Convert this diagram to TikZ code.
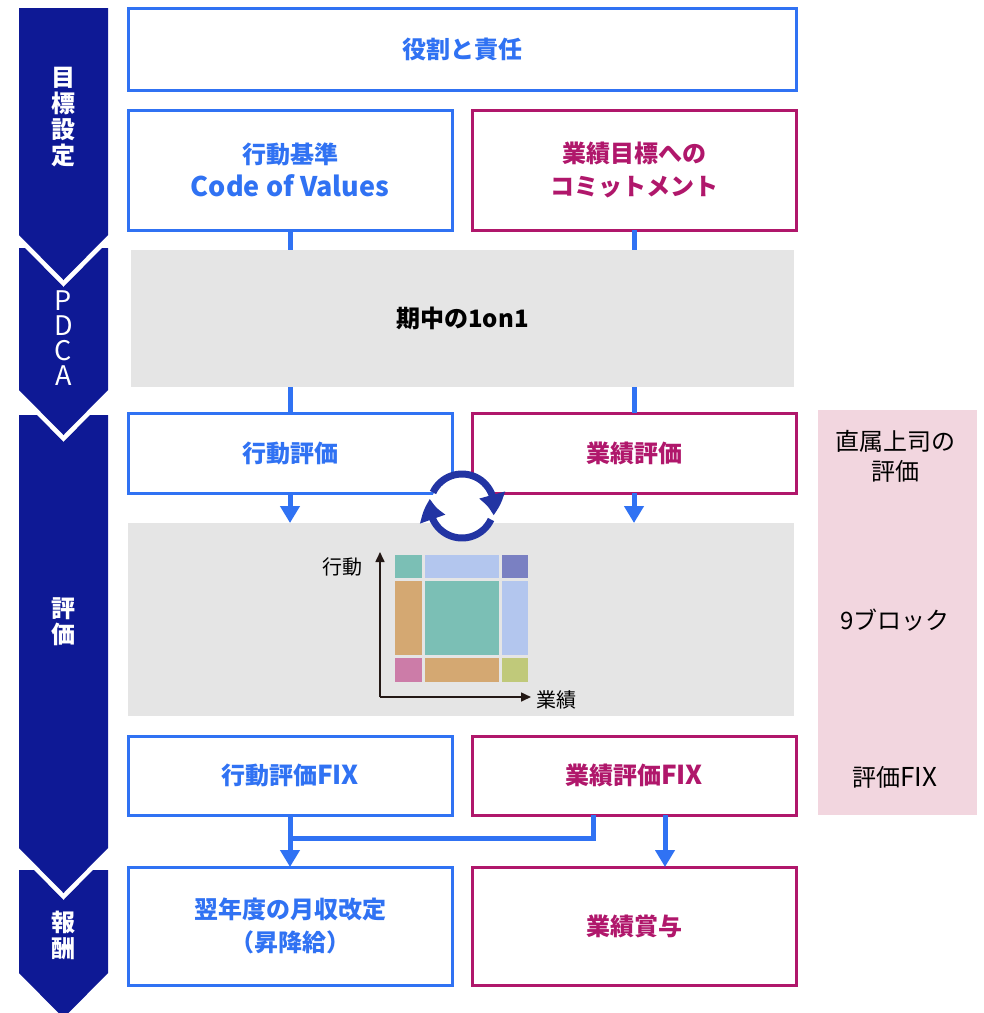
\documentclass[tikz,border=0pt]{standalone}
\usepackage{fontspec}
\setmainfont{Noto Sans CJK JP}
\usetikzlibrary{arrows.meta,bending}
\definecolor{kblue}{HTML}{3072F3}
\definecolor{kmag}{HTML}{B0176B}
\definecolor{knavy}{HTML}{0E1995}
\definecolor{kcyc}{HTML}{2234A3}
\definecolor{kgray}{HTML}{E5E5E5}
\definecolor{kpink}{HTML}{F2D6DF}
\definecolor{kaxis}{HTML}{231815}
\definecolor{cteal}{HTML}{7BBFB5}
\definecolor{clblue}{HTML}{B3C6EE}
\definecolor{cpurple}{HTML}{7A80C2}
\definecolor{ctan}{HTML}{D4A872}
\definecolor{cpink}{HTML}{CC7CA8}
\definecolor{colive}{HTML}{C0C97A}
\begin{document}
\begin{tikzpicture}[x=1pt,y=-1pt,
  bbox/.style={draw=kblue, text=kblue, line width=3pt, fill=white, inner sep=0pt, outer sep=0pt, align=center, font=\fontsize{24}{33}\selectfont\bfseries},
  mbox/.style={bbox, draw=kmag, text=kmag},
  gbox/.style={fill=kgray, inner sep=0pt, outer sep=0pt, font=\fontsize{24}{33}\selectfont\bfseries},
  stage/.style={text=white, align=center, font=\fontsize{24}{26}\selectfont\bfseries},
  note/.style={align=center, font=\fontsize{24}{30}\selectfont},
  conn/.style={draw=kblue, line width=5pt},
  tip/.style={-{Triangle[width=19pt,length=17pt]}},
  cyc/.style={draw=kcyc, line width=7pt, -{Triangle[width=25pt,length=21pt,bend]}},
  axis/.style={draw=kaxis, line width=1.6pt, -{Triangle[width=9pt,length=10pt]}}]
\useasboundingbox (0,0) rectangle (984,1013);
% stages on the left
\fill[knavy] (19,8) -- (108,8) -- (108,235) -- (63.5,280) -- (19,235) -- cycle;
\fill[knavy] (19,248) -- (25,248) -- (63.5,287) -- (102,248) -- (108,248) -- (108,390) -- (63.5,435) -- (19,390) -- cycle;
\fill[knavy] (19,415) -- (37,415) -- (63.5,442) -- (90,415) -- (108,415) -- (108,848) -- (63.5,893) -- (19,848) -- cycle;
\fill[knavy] (19,870) -- (34,870) -- (63.5,900) -- (93,870) -- (108,870) -- (108,973) -- (63.5,1018) -- (19,973) -- cycle;
\node[stage] (stg1) at (63.5,117){目\\標\\設\\定};
\node[stage, font=\fontsize{27}{25}\selectfont\mdseries] (stg2) at (63.5,338){P\\D\\C\\A};
\node[stage] (stg3) at (63.5,622){評\\価};
\node[stage] (stg4) at (63.5,935){報\\酬};
% evaluator column
\node[fill=kpink, minimum width=159pt, minimum height=405pt, inner sep=0pt] (pnk) at (897.5,612.5){};
\node[note] (pnk1) at (895,456){直属上司の\\評価};
\node[note] (pnk2) at (895,620){9ブロック};
\node[note] (pnk3) at (895,777){評価{\fontsize{26}{30}\selectfont FIX}};
% boxes
\node[bbox, minimum width=668pt, minimum height=82pt] (yak) at (462,49){役割と責任};
\node[bbox, minimum width=324pt, minimum height=120pt] (kij) at (290,170){行動基準\\{\fontsize{27}{33}\selectfont Code of Values}};
\node[mbox, minimum width=324pt, minimum height=120pt] (com) at (634,170){業績目標への\\コミットメント};
\node[gbox, minimum width=663pt, minimum height=137pt] (one) at (462.5,318.5){期中の1on1};
\node[bbox, minimum width=324pt, minimum height=80pt] (khy) at (290,453){行動評価};
\node[mbox, minimum width=324pt, minimum height=80pt] (ghy) at (634,453){業績評価};
\node[gbox, minimum width=666pt, minimum height=193pt] (blk) at (461,619.5){};
\node[bbox, minimum width=324pt, minimum height=79pt] (kfx) at (290,775.5){行動評価{\fontsize{26}{33}\selectfont FIX}};
\node[mbox, minimum width=324pt, minimum height=79pt] (gfx) at (634,775.5){業績評価{\fontsize{26}{33}\selectfont FIX}};
\node[bbox, minimum width=324pt, minimum height=118pt] (kyu) at (290,926){翌年度の月収改定\\（昇降給）};
\node[mbox, minimum width=324pt, minimum height=118pt] (sho) at (634,926){業績賞与};
% connectors
\draw[conn] (kij.south) -- (kij.south |- one.north);
\draw[conn] (com.south) -- (com.south |- one.north);
\draw[conn] (kij.south |- one.south) -- (khy.north);
\draw[conn] (com.south |- one.south) -- (ghy.north);
\draw[conn, tip] (khy.south) -- (khy.south |- blk.north);
\draw[conn, tip] (ghy.south) -- (ghy.south |- blk.north);
\coordinate (mrg) at (290,838);
\draw[conn, line join=miter] ([xshift=-41pt]gfx.south) |- (mrg);
\draw[conn, tip] (kfx.south) -- (kyu.north);
\draw[conn, tip] ([xshift=31pt]gfx.south) -- ([xshift=31pt]sho.north);
% cycle
\node[circle, fill=white, minimum size=62pt, inner sep=0pt] (cyc) at (462,506){};
\draw[cyc] (cyc.center) ++(-155:32) arc[start angle=-155, end angle=17, radius=32];
\draw[cyc] (cyc.center) ++(25:32) arc[start angle=25, end angle=193, radius=32];
% 9 blocks
\fill[cteal] (395,555) rectangle (422,578);
\fill[clblue] (424.5,555) rectangle (499,578);
\fill[cpurple] (501.5,555) rectangle (528,578);
\fill[ctan] (395,580.5) rectangle (422,655);
\fill[cteal] (424.5,580.5) rectangle (499,655);
\fill[clblue] (501.5,580.5) rectangle (528,655);
\fill[cpink] (395,657.5) rectangle (422,682);
\fill[ctan] (424.5,657.5) rectangle (499,682);
\fill[colive] (501.5,657.5) rectangle (528,682);
\coordinate (org) at (380,697);
\coordinate (ytop) at (380,552);
\coordinate (xend) at (531,697);
\draw[axis] (org) -- (ytop);
\draw[axis] (org) -- (xend);
\node[font=\fontsize{20}{20}\selectfont] (ylab) at (342,567){行動};
\node[font=\fontsize{20}{20}\selectfont] (xlab) at (556,700){業績};
\end{tikzpicture}
\end{document}
